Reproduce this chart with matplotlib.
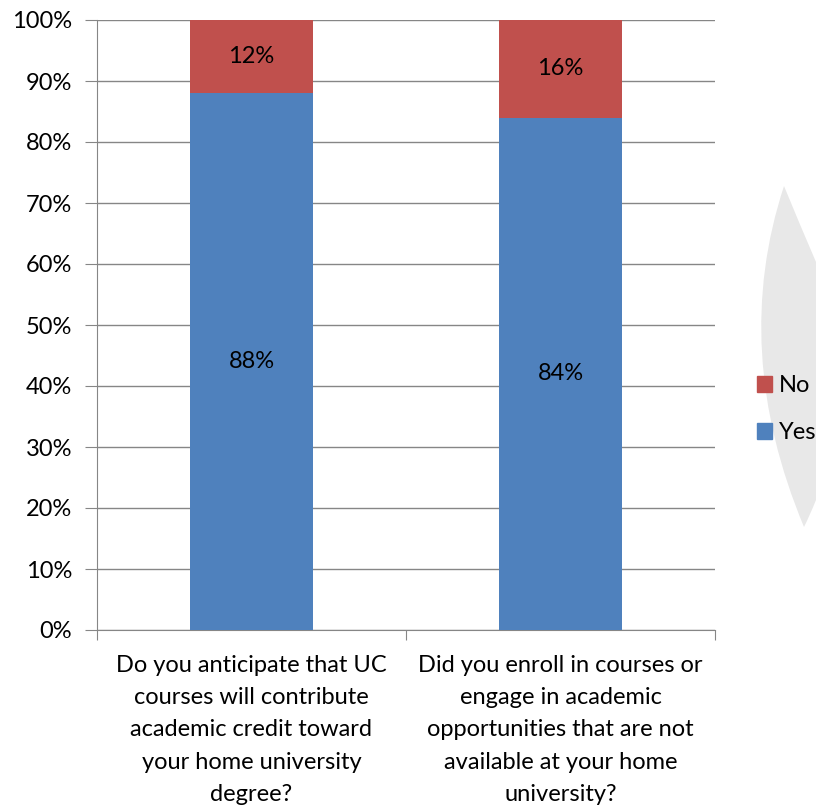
import numpy as np
import matplotlib
matplotlib.use('Agg')
import matplotlib.pyplot as plt
from matplotlib.patches import PathPatch, Patch
from matplotlib.path import Path

questions = ['Do you anticipate that UC\ncourses will contribute\nacademic credit toward\nyour home university\ndegree?',
             'Did you enroll in courses or\nengage in academic\nopportunities that are not\navailable at your home\nuniversity?']
yes = [0.88, 0.84]
no = [0.12, 0.16]
yes_labels = ['88%', '84%']
no_labels = ['12%', '16%']

blue = '#4F81BD'
red = '#C0504D'
grid_col = '#868686'
fs = 17

plt.rcParams['font.family'] = ['Lato', 'DejaVu Sans']

fig = plt.figure(figsize=(8.16, 8.06), dpi=100)

# decorative grey leaf shape behind the legend (pixel coords, y down)
verts = [(784, 186), (730, 350), (804, 527), (810, 515), (816, 500),
         (816, 262), (800, 225), (784, 186), (784, 186)]
codes = [Path.MOVETO, Path.CURVE3, Path.CURVE3, Path.CURVE3, Path.CURVE3,
         Path.LINETO, Path.CURVE3, Path.CURVE3, Path.CLOSEPOLY]
verts = [(vx / 816, 1 - vy / 806) for vx, vy in verts]
leaf = PathPatch(Path(verts, codes), facecolor='#E8E8E8', edgecolor='none',
                 transform=fig.transFigure)
fig.patches.append(leaf)

ax = fig.add_axes([97 / 816, 1 - 630 / 806, (715 - 97) / 816, (630 - 20) / 806])

x = np.arange(len(questions))
ax.bar(x, yes, width=0.4, color=blue, zorder=3)
ax.bar(x, no, width=0.4, bottom=yes, color=red, zorder=3)

for i in range(len(x)):
    ax.text(x[i], yes[i] / 2, yes_labels[i], ha='center', va='center', fontsize=fs, zorder=4)
    ax.text(x[i], yes[i] + no[i] / 2, no_labels[i], ha='center', va='center', fontsize=fs, zorder=4)

ax.set_xlim(-0.5, 1.5)
ax.set_ylim(0, 1)
ax.set_yticks(np.arange(0, 1.01, 0.1))
ax.set_yticklabels(['%d%%' % round(v * 100) for v in np.arange(0, 1.01, 0.1)], fontsize=fs)
ax.yaxis.grid(True, color=grid_col, linewidth=1)
ax.set_axisbelow(True)

ax.set_xticks([-0.5, 0.5, 1.5])
ax.set_xticklabels([])
ax.set_xticks(x, minor=True)
ax.set_xticklabels(questions, minor=True, fontsize=fs, linespacing=1.66)
ax.tick_params(axis='x', which='minor', length=0, pad=18)
ax.tick_params(axis='x', which='major', length=7, color=grid_col)
ax.tick_params(axis='y', length=9, color=grid_col, pad=9)

for s in ['top', 'right']:
    ax.spines[s].set_visible(False)
for s in ['left', 'bottom']:
    ax.spines[s].set_color(grid_col)

handles = [Patch(color=red, label='No'), Patch(color=blue, label='Yes')]
fig.legend(handles=handles, loc='upper left', bbox_to_anchor=(757 / 816, 1 - 375 / 806),
           frameon=False, fontsize=fs, handlelength=0.64, handleheight=0.64,
           handletextpad=0.3, labelspacing=1.12, borderpad=0, borderaxespad=0)

fig.savefig('out.png', dpi=100)
